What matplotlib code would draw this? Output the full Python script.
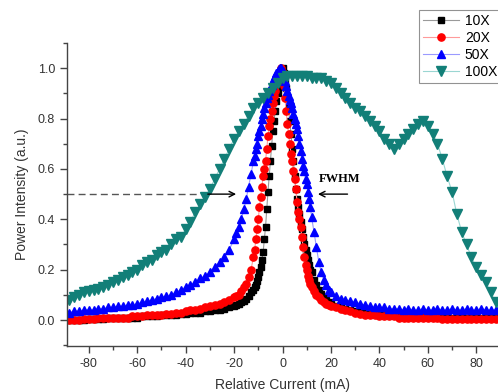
import matplotlib
matplotlib.use("Agg")
import matplotlib.pyplot as plt
from matplotlib.ticker import MultipleLocator

plt.rcParams['font.family'] = ['Liberation Sans', 'DejaVu Sans']
plt.rcParams['axes.unicode_minus'] = False

# relative current grid shared by 10X / 20X / 50X (mA)
current = [
    -88, -86, -84, -82, -80, -78, -76, -74, -72, -70, -68, -66, -64, -62, -60, -58, -56, -54,
    -52, -50, -48, -46, -44, -42, -40, -38, -36, -34, -32, -30, -28, -26, -24, -22, -20,
    -19, -18, -17, -16, -15, -14, -13,
    -12, -11.5, -11, -10.5, -10, -9.5, -9, -8.5, -8, -7.5, -7, -6.5, -6, -5.5, -5, -4.5,
    -4, -3.5, -3, -2.5, -2, -1.5, -1, -0.5, 0, 0.5, 1, 1.5, 2, 2.5, 3, 3.5, 4, 4.5, 5, 5.5,
    6, 6.5, 7, 7.5, 8, 8.5, 9, 9.5, 10, 10.5, 11, 11.5, 12,
    13, 14, 15, 16, 17, 18, 19,
    20, 22, 24, 26, 28, 30, 32, 34, 36, 38, 40, 42, 44, 46, 48, 50, 52, 54, 56, 58,
    60, 62, 64, 66, 68, 70, 72, 74, 76, 78, 80, 82, 84, 86, 88,
]

p10x = [
    0.0, 0.0, 0.0, 0.0, 0.005, 0.005, 0.005, 0.005, 0.01, 0.01, 0.01, 0.01, 0.01, 0.01, 0.01,
    0.015, 0.015, 0.015, 0.015, 0.02, 0.02, 0.02, 0.02, 0.025, 0.025, 0.03, 0.03, 0.03,
    0.035, 0.035, 0.04, 0.04, 0.045, 0.05, 0.055,
    0.06, 0.065, 0.07, 0.075, 0.085, 0.095, 0.11,
    0.12, 0.13, 0.14, 0.155, 0.17, 0.19, 0.21, 0.24, 0.27, 0.32, 0.37, 0.44, 0.51, 0.57,
    0.63, 0.69, 0.75, 0.79, 0.83, 0.87, 0.90, 0.93, 0.96, 0.98, 1.0,
    0.98, 0.95, 0.92, 0.88, 0.84, 0.79, 0.74, 0.68, 0.63, 0.57, 0.52, 0.48, 0.45, 0.42,
    0.39, 0.36, 0.33, 0.30, 0.28, 0.26, 0.24, 0.22, 0.20, 0.19,
    0.16, 0.14, 0.12, 0.105, 0.09, 0.08, 0.07,
    0.065, 0.055, 0.05, 0.045, 0.04, 0.035, 0.035, 0.03, 0.03, 0.03, 0.025, 0.025, 0.025,
    0.02, 0.02, 0.02, 0.02, 0.02, 0.015, 0.015, 0.015, 0.015, 0.015, 0.015,
    0.01, 0.01, 0.01, 0.01, 0.01, 0.01, 0.01, 0.01, 0.01, 0.01, 0.01,
]

p20x = [
    0.0, 0.0, 0.0, 0.005, 0.005, 0.005, 0.01, 0.01, 0.01, 0.01, 0.01, 0.01, 0.01,
    0.015, 0.015, 0.015, 0.02, 0.02, 0.02, 0.02, 0.025, 0.025, 0.03, 0.03, 0.035,
    0.04, 0.04, 0.045, 0.05, 0.055, 0.06, 0.065, 0.07, 0.08, 0.09,
    0.095, 0.10, 0.115, 0.13, 0.145, 0.17, 0.20,
    0.25, 0.28, 0.32, 0.36, 0.40, 0.45, 0.49, 0.53, 0.57, 0.60, 0.63, 0.68, 0.73, 0.77,
    0.80, 0.83, 0.86, 0.89, 0.91, 0.94, 0.96, 0.98, 0.99, 1.0, 0.98,
    0.93, 0.88, 0.83, 0.78, 0.74, 0.70, 0.66, 0.63, 0.59, 0.56, 0.52, 0.47, 0.43, 0.40,
    0.37, 0.33, 0.29, 0.25, 0.22, 0.20, 0.175, 0.16, 0.145, 0.13,
    0.115, 0.10, 0.09, 0.08, 0.07, 0.065, 0.06,
    0.055, 0.05, 0.045, 0.04, 0.035, 0.03, 0.025, 0.02, 0.02, 0.02, 0.015, 0.015, 0.015,
    0.015, 0.01, 0.01, 0.01, 0.01, 0.01, 0.01, 0.01, 0.01, 0.01,
    0.005, 0.005, 0.005, 0.005, 0.005, 0.005, 0.005, 0.005, 0.005, 0.005, 0.005, 0.005,
]

p50x = [
    0.03, 0.035, 0.035, 0.04, 0.04, 0.04, 0.045, 0.045, 0.05, 0.05, 0.055, 0.055, 0.06,
    0.06, 0.065, 0.07, 0.075, 0.08, 0.085, 0.09, 0.095, 0.10, 0.11, 0.12, 0.13, 0.14,
    0.15, 0.165, 0.175, 0.19, 0.21, 0.23, 0.25, 0.28, 0.32,
    0.345, 0.37, 0.40, 0.44, 0.48, 0.53, 0.58,
    0.63, 0.65, 0.68, 0.70, 0.73, 0.75, 0.77, 0.80, 0.82, 0.84, 0.86, 0.88, 0.895, 0.91,
    0.92, 0.935, 0.95, 0.96, 0.97, 0.98, 0.99, 0.995, 1.0, 1.0, 0.99,
    0.97, 0.95, 0.93, 0.91, 0.89, 0.875, 0.86, 0.84, 0.82, 0.80, 0.78, 0.76, 0.73, 0.70,
    0.67, 0.64, 0.61, 0.59, 0.56, 0.54, 0.51, 0.48, 0.45, 0.41,
    0.35, 0.29, 0.23, 0.19, 0.16, 0.14, 0.12,
    0.11, 0.095, 0.085, 0.08, 0.075, 0.07, 0.065, 0.06, 0.055, 0.05, 0.05, 0.05, 0.045,
    0.045, 0.045, 0.04, 0.045, 0.04, 0.04, 0.045, 0.04, 0.04, 0.045, 0.04, 0.04,
    0.045, 0.04, 0.04, 0.045, 0.04, 0.04, 0.045, 0.04, 0.04, 0.04,
]

# 100X is sampled more coarsely
current_100x = [
    -88, -86, -84, -82, -80, -78, -76, -74, -72, -70, -68, -66, -64, -62, -60, -58, -56,
    -54, -52, -50, -48, -46, -44, -42, -40, -38, -36, -34, -32, -30, -28, -26, -24, -22,
    -20, -18, -16, -14, -12, -10, -8, -6, -4, -2, 0, 2, 4, 6, 8, 10, 12, 14, 16, 18, 20,
    22, 24, 26, 28, 30, 32, 34, 36, 38, 40, 42, 44, 46, 48, 50, 52, 54, 56, 58, 60, 62,
    64, 66, 68, 70, 72, 74, 76, 78, 80, 82, 84, 86, 88,
]
p100x = [
    0.08, 0.09, 0.10, 0.11, 0.115, 0.12, 0.125, 0.13, 0.14, 0.15, 0.16, 0.17, 0.18, 0.19,
    0.20, 0.22, 0.23, 0.24, 0.26, 0.27, 0.28, 0.30, 0.32, 0.33, 0.36, 0.39, 0.43, 0.46,
    0.49, 0.52, 0.56, 0.60, 0.64, 0.68, 0.72, 0.75, 0.78, 0.81, 0.84, 0.86, 0.88, 0.90,
    0.92, 0.94, 0.96, 0.97, 0.97, 0.97, 0.97, 0.97, 0.96, 0.96, 0.96, 0.95, 0.94, 0.92,
    0.90, 0.88, 0.86, 0.84, 0.83, 0.81, 0.79, 0.77, 0.75, 0.72, 0.70, 0.68, 0.70, 0.72,
    0.74, 0.76, 0.78, 0.79, 0.77, 0.74, 0.70, 0.64, 0.57, 0.51, 0.42, 0.35, 0.30, 0.25,
    0.21, 0.18, 0.15, 0.11, 0.07,
]

series = [
    ("10X", current, p10x, "s", 4.8, "#000000", "#9a9a9a"),
    ("20X", current, p20x, "o", 5.2, "#ff0000", "#ff9a9a"),
    ("50X", current, p50x, "^", 5.6, "#0000ff", "#9a9aff"),
    ("100X", current_100x, p100x, "v", 7.0, "#127f78", "#9ad6d2"),
]

fig = plt.figure(figsize=(4.98, 3.92), dpi=100)
ax = fig.add_axes([67 / 498, 1 - 346 / 392, 431 / 498, 303 / 392])

for name, xs, ys, mk, ms, c, lc in series:
    ax.plot(xs, ys, color=lc, lw=0.8, marker=mk, ms=ms, mfc=c, mec=c, label=name)

# FWHM marker at half maximum
ax.plot([-89, -34], [0.5, 0.5], color="#555555", lw=1.0, ls=(0, (5, 3)))
ax.annotate("", xy=(-18, 0.5), xytext=(-32, 0.5),
            arrowprops=dict(arrowstyle="->", color="black", lw=1.0))
ax.annotate("", xy=(13.5, 0.5), xytext=(28, 0.5),
            arrowprops=dict(arrowstyle="->", color="black", lw=1.0))
ax.text(15, 0.56, "FWHM", family=["Liberation Serif", "DejaVu Serif"],
        fontweight="bold", fontsize=9, va="center", ha="left")

ax.set_xlim(-89, 89)
ax.set_ylim(-0.103, 1.1)
ax.xaxis.set_major_locator(MultipleLocator(20))
ax.xaxis.set_minor_locator(MultipleLocator(10))
ax.set_yticks([0, 0.2, 0.4, 0.6, 0.8, 1.0])
ax.yaxis.set_minor_locator(MultipleLocator(0.1))
ax.set_yticklabels(["0.0", "0.2", "0.4", "0.6", "0.8", "1.0"])

for s in ["top", "right"]:
    ax.spines[s].set_visible(False)
for s in ["left", "bottom"]:
    ax.spines[s].set_color("#444444")
    ax.spines[s].set_linewidth(1.0)
ax.tick_params(which="major", direction="out", length=5, width=1.0,
               color="#444444", labelsize=9, labelcolor="#333333")
ax.tick_params(which="minor", direction="out", length=3, width=1.0, color="#444444")

ax.set_xlabel("Relative Current (mA)", fontsize=10, color="#333333", labelpad=6)
ax.set_ylabel("Power Intensity (a.u.)", fontsize=10, color="#333333", labelpad=6)

leg = fig.legend(loc="upper left", bbox_to_anchor=(419 / 498, 1 - 10 / 392),
                 fontsize=10, frameon=True, fancybox=False, edgecolor="#777777",
                 handlelength=2.6, labelspacing=0.2, borderpad=0.3,
                 handletextpad=0.4, borderaxespad=0)
leg.get_frame().set_linewidth(0.8)

fig.savefig("out.png", dpi=100)
